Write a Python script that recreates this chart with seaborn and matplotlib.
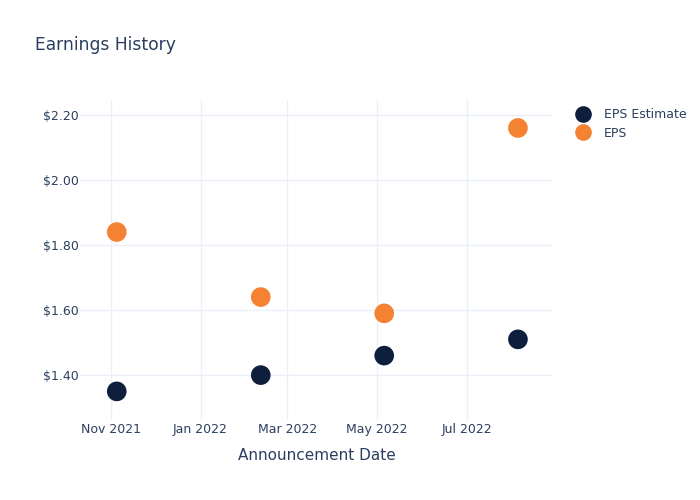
import matplotlib
matplotlib.use("Agg")
import matplotlib.pyplot as plt
import matplotlib.dates as mdates
import matplotlib.ticker as mticker
import seaborn as sns
import pandas as pd

dates = ["2021-11-05", "2022-02-11", "2022-05-06", "2022-08-05"]
eps_estimate = [1.35, 1.40, 1.46, 1.51]
eps_actual = [1.84, 1.64, 1.59, 2.16]
series_names = ["EPS Estimate", "EPS"]
title = "Earnings History"
x_label = "Announcement Date"

df = pd.DataFrame({
    "date": pd.to_datetime(dates * 2),
    "value": eps_estimate + eps_actual,
    "series": [series_names[0]] * len(dates) + [series_names[1]] * len(dates),
})

sns.set_theme(style="white")
plt.rcParams['font.family'] = ['DejaVu Sans']
text_color = "#2a3f5f"
grid_color = "#ebf0f8"

fig = plt.figure(figsize=(7, 5), dpi=100)
ax = fig.add_axes([0.1143, 0.16, 0.676, 0.64])

sns.scatterplot(data=df, x="date", y="value", hue="series",
                palette={series_names[0]: "#0d1f3d", series_names[1]: "#f58233"},
                s=200, linewidth=0, ax=ax, zorder=3)

ax.set_xlim(pd.Timestamp("2021-10-11"), pd.Timestamp("2022-08-29"))
ax.set_ylim(1.262, 2.246)
ax.yaxis.set_major_locator(mticker.FixedLocator([1.4, 1.6, 1.8, 2.0, 2.2]))
ax.yaxis.set_major_formatter(mticker.FuncFormatter(lambda v, p: f"${v:.2f}"))
ax.xaxis.set_major_locator(mdates.MonthLocator(bymonth=[1, 3, 5, 7, 9, 11]))
ax.xaxis.set_major_formatter(mdates.DateFormatter("%b %Y"))

ax.grid(True, color=grid_color, linewidth=1)
ax.set_axisbelow(True)
for sp in ax.spines.values():
    sp.set_visible(False)
ax.tick_params(axis="y", length=0, labelsize=9, colors=text_color, pad=1)
ax.tick_params(axis="x", length=0, labelsize=9, colors=text_color, pad=2)
ax.set_xlabel(x_label, fontsize=11, color=text_color, labelpad=9)
ax.set_ylabel("")

fig.text(0.05, 0.911, title, fontsize=12.3, color=text_color, va="center")

leg = ax.legend(loc="upper left", bbox_to_anchor=(1.025, 0.99), frameon=False,
                fontsize=9, labelcolor=text_color, handletextpad=0.7,
                borderaxespad=0, labelspacing=0.45)
for h in leg.legend_handles:
    h.set_markersize(12)

fig.savefig("out.png", dpi=100)
